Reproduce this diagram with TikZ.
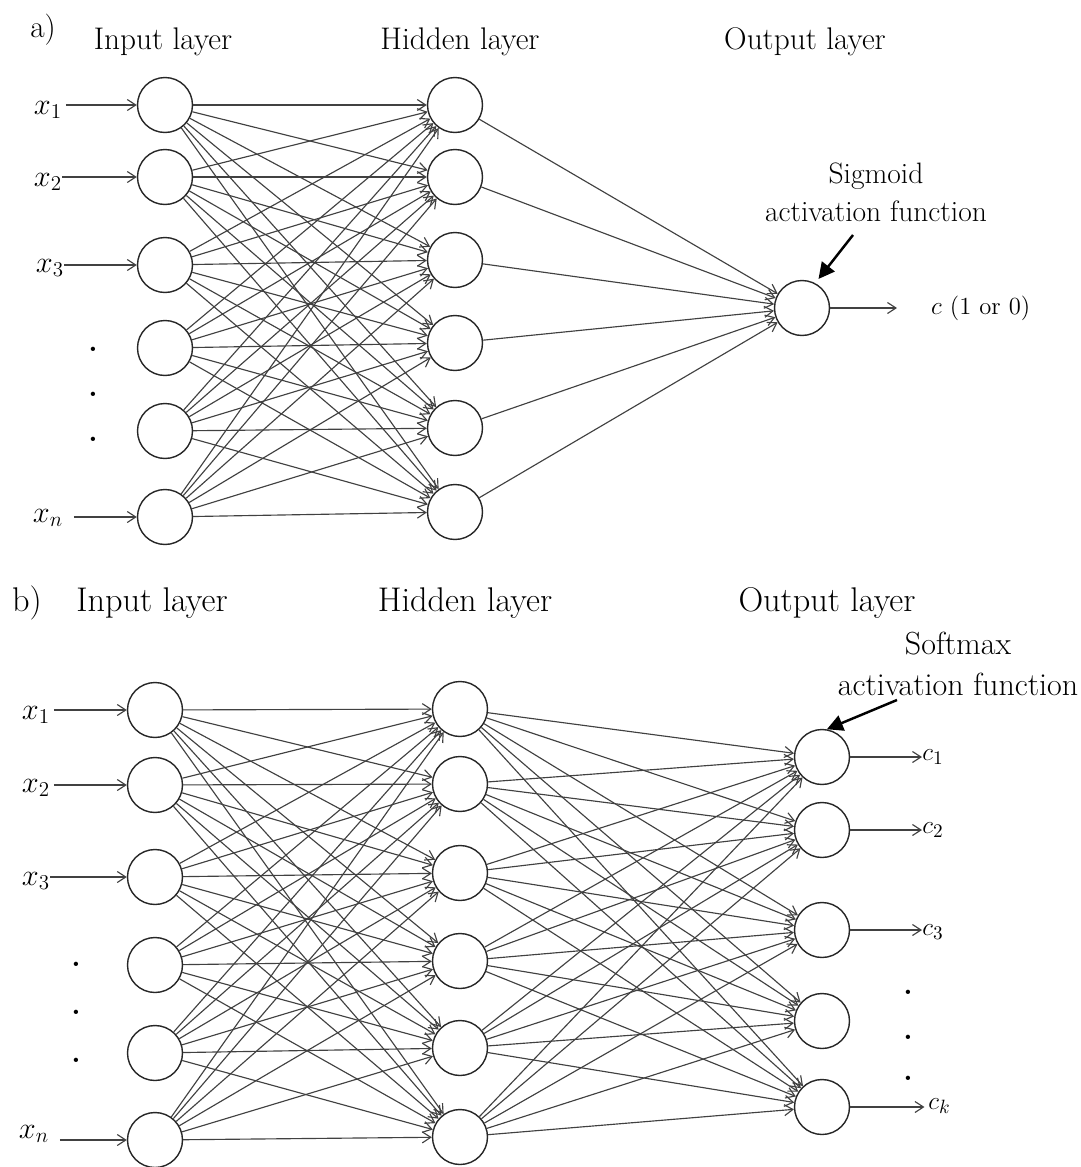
\documentclass[tikz,border=0pt]{standalone}
\usepackage{amsmath}
\usepackage{tikz}
\usetikzlibrary{arrows.meta}
\definecolor{linkgray}{RGB}{65,65,65}

\begin{document}
\begin{tikzpicture}[x=0.02cm, y=-0.02cm,
    neuron/.style={circle, draw=black!85, line width=0.8pt, minimum size=1.1cm, inner sep=0pt},
    link/.style={-{Straight Barb[length=1.7mm, width=2.2mm]}, draw=linkgray, line width=0.65pt},
    actarrow/.style={-{Triangle[length=3.2mm, width=3.2mm]}, line width=1.4pt},
    title/.style={font=\fontsize{17.8}{21}\selectfont},
    inlbl/.style={font=\fontsize{17}{20}\selectfont, inner sep=0pt}]
    \useasboundingbox (0,0) rectangle (1081,1167);

    % a) sigmoid network
    \node[title] (parta) at (43,30) {a)};
    \node[title] (inputa) at (163,42) {Input layer};
    \node[title] (hiddena) at (460,42) {Hidden layer};
    \node[title] (outputa) at (805,42) {Output layer};

    \foreach \i/\y in {1/105,2/177,3/265,4/348,5/431,6/517}
        \node[neuron] (ia\i) at (165,\y) {};
    \foreach \j/\y in {1/105,2/177,3/260,4/343,5/428,6/512}
        \node[neuron] (ha\j) at (455,\y) {};
    \node[neuron] (oa) at (802,308) {};

    \foreach \i in {1,...,6}
        \foreach \j in {1,...,6}
            \draw[link] (ia\i) -- (ha\j);
    \foreach \j in {1,...,6}
        \draw[link] (ha\j) -- (oa);

    \node[inlbl] (xa1) at (48,110) {$x_1$};
    \node[inlbl] (xa2) at (48,182) {$x_2$};
    \node[inlbl] (xa3) at (50,268) {$x_3$};
    \node[inlbl] (xan) at (48,518) {$x_n$};
    \draw[link] ([xshift=2pt]xa1.east |- ia1) -- (ia1);
    \draw[link] (xa2.east |- ia2) -- (ia2);
    \draw[link] (xa3.east |- ia3) -- (ia3);
    \draw[link] ([xshift=6pt]xan.east |- ia6) -- (ia6);
    \foreach \y [count=\k] in {349,394,439}
        \node[inlbl, font=\fontsize{17}{20}\bfseries] (dota\k) at (93,\y) {.};

    \node[font=\fontsize{16.8}{21.5}\selectfont, align=center] (sigmoid) at (876,192)
        {Sigmoid\\activation function};
    \coordinate (sigtail) at (853,235);
    \draw[actarrow, shorten >=3pt] (sigtail) -- (oa.62);
    \coordinate (caend) at (897,308);
    \draw[link] (oa) -- (caend);
    \node[anchor=west, font=\fontsize{14}{16}\selectfont] (ca) at (925,308) {$c$ (1 or 0)};

    % b) softmax network
    \node[title, font=\fontsize{19.5}{23}\selectfont] (partb) at (27,603) {b)};
    \node[title, font=\fontsize{19.5}{23}\selectfont] (inputb) at (152,603) {Input layer};
    \node[title, font=\fontsize{19.5}{23}\selectfont] (hiddenb) at (465,603) {Hidden layer};
    \node[title, font=\fontsize{19.5}{23}\selectfont] (outputb) at (827,603) {Output layer};

    \foreach \i/\y in {1/710,2/785,3/877,4/965,5/1053,6/1140}
        \node[neuron] (ib\i) at (155,\y) {};
    \foreach \j/\y in {1/709,2/784,3/873,4/961,5/1048,6/1137}
        \node[neuron] (hb\j) at (460,\y) {};
    \foreach \k/\y in {1/757,2/830,3/930,4/1021,5/1107}
        \node[neuron] (ob\k) at (822,\y) {};

    \foreach \i in {1,...,6}
        \foreach \j in {1,...,6}
            \draw[link] (ib\i) -- (hb\j);
    \foreach \j in {1,...,6}
        \foreach \k in {1,...,5}
            \draw[link] (hb\j) -- (ob\k);

    \node[inlbl] (xb1) at (36,715) {$x_1$};
    \node[inlbl] (xb2) at (36,788) {$x_2$};
    \node[inlbl] (xb3) at (36,881) {$x_3$};
    \node[inlbl] (xbn) at (34,1134) {$x_n$};
    \draw[link] ([xshift=2pt]xb1.east |- ib1) -- (ib1);
    \draw[link] ([xshift=2pt]xb2.east |- ib2) -- (ib2);
    \draw[link] (xb3.east |- ib3) -- (ib3);
    \draw[link] ([xshift=6pt]xbn.east |- ib6) -- (ib6);
    \foreach \y [count=\k] in {964,1012,1060}
        \node[inlbl, font=\fontsize{17}{20}\bfseries] (dotb\k) at (76,\y) {.};

    \node[font=\fontsize{18.2}{23}\selectfont, align=center] (softmax) at (958,664)
        {Softmax\\activation function};
    \coordinate (smtail) at (897,700);
    \draw[actarrow] (smtail) -- (ob1.80);

    \node[anchor=west, inner sep=0pt, font=\fontsize{15}{17}\selectfont] (c1) at (922,757) {$c_1$};
    \node[anchor=west, inner sep=0pt, font=\fontsize{15}{17}\selectfont] (c2) at (922,830) {$c_2$};
    \node[anchor=west, inner sep=0pt, font=\fontsize{15}{17}\selectfont] (c3) at (922,932) {$c_3$};
    \node[anchor=west, inner sep=0pt, font=\fontsize{15}{17}\selectfont] (ck) at (928,1106) {$c_k$};
    \draw[link] (ob1) -- (c1.west |- ob1);
    \draw[link] (ob2) -- (c2.west |- ob2);
    \draw[link] (ob3) -- (c3.west |- ob3);
    \draw[link] (ob5) -- ([xshift=-2pt]ck.west |- ob5);
    \foreach \y [count=\k] in {992,1037,1078}
        \node[inlbl, font=\fontsize{17}{20}\bfseries] (dotc\k) at (908,\y) {.};
\end{tikzpicture}
\end{document}
